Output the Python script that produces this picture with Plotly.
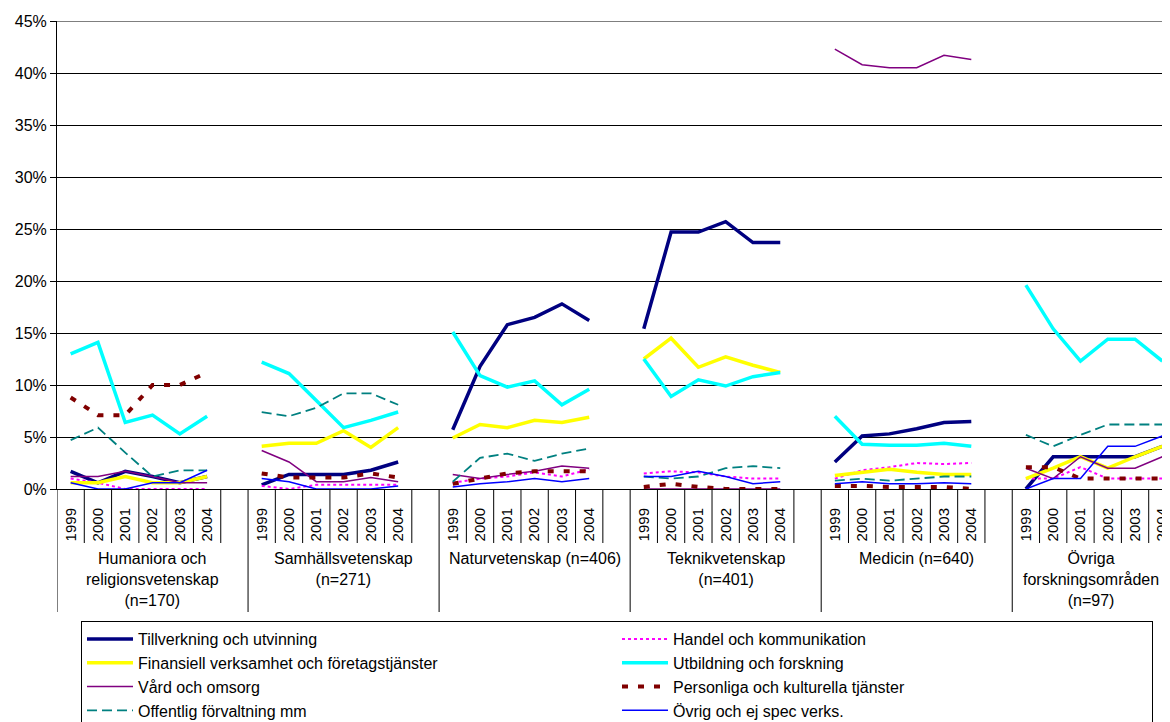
import plotly.graph_objects as go

# ---------------- data ----------------
years = ["1999", "2000", "2001", "2002", "2003", "2004"]
groups = [
    "Humaniora och<br>religionsvetenskap<br>(n=170)",
    "Samhällsvetenskap<br>(n=271)",
    "Naturvetenskap (n=406)",
    "Teknikvetenskap<br>(n=401)",
    "Medicin (n=640)",
    "Övriga<br>forskningsområden<br>(n=97)",
]

# values in percent, 6 years per group, groups in the order above
tillverkning = [1.7, 0.6, 1.7, 1.2, 0.6, 1.2,
                0.4, 1.4, 1.4, 1.4, 1.8, 2.6,
                5.7, 11.8, 15.8, 16.5, 17.8, 16.2,
                15.4, 24.7, 24.7, 25.7, 23.7, 23.7,
                2.6, 5.1, 5.3, 5.8, 6.4, 6.5,
                0.0, 3.1, 3.1, 3.1, 3.1, 4.1]
handel = [1.0, 0.6, 0.0, 0.0, 0.0, 0.0,
          0.3, 0.0, 0.4, 0.4, 0.4, 0.4,
          0.6, 1.0, 1.2, 1.6, 1.2, 1.9,
          1.5, 1.7, 1.6, 1.2, 1.0, 1.0,
          1.0, 1.8, 2.1, 2.5, 2.4, 2.5,
          1.0, 1.0, 2.1, 1.0, 1.0, 1.0]
finansiell = [0.6, 0.6, 1.2, 0.6, 0.6, 1.2,
              4.1, 4.4, 4.4, 5.6, 4.0, 5.9,
              4.9, 6.2, 5.9, 6.6, 6.4, 6.9,
              12.5, 14.5, 11.7, 12.7, 11.9, 11.2,
              1.3, 1.6, 1.9, 1.6, 1.4, 1.4,
              1.0, 2.0, 3.1, 2.0, 3.1, 4.1]
utbildning = [13.0, 14.1, 6.4, 7.1, 5.3, 7.0,
              12.2, 11.1, 8.5, 5.9, 6.6, 7.4,
              15.1, 10.9, 9.8, 10.4, 8.1, 9.6,
              12.5, 8.9, 10.5, 9.9, 10.8, 11.2,
              7.0, 4.3, 4.2, 4.2, 4.4, 4.1,
              19.6, 15.4, 12.3, 14.4, 14.4, 12.3]
vard = [1.2, 1.2, 1.7, 1.2, 0.6, 0.6,
        3.7, 2.6, 0.7, 0.7, 1.1, 0.7,
        1.4, 1.0, 1.4, 1.7, 2.2, 2.0,
        0.0, 0.0, 0.0, 0.0, 0.0, 0.0,
        42.3, 40.8, 40.5, 40.5, 41.7, 41.3,
        2.0, 1.0, 3.1, 2.0, 2.0, 3.1]
personliga = [8.8, 7.1, 7.1, 10.0, 10.0, 11.2,
              1.5, 1.1, 1.1, 1.1, 1.5, 1.1,
              0.5, 1.0, 1.5, 1.7, 1.7, 1.7,
              0.2, 0.5, 0.2, 0.0, 0.0, 0.0,
              0.3, 0.3, 0.2, 0.2, 0.2, 0.0,
              2.1, 2.1, 1.0, 1.0, 1.0, 1.0]
offentlig = [4.7, 5.9, 3.5, 1.2, 1.8, 1.8,
             7.4, 7.0, 7.8, 9.2, 9.2, 8.1,
             0.7, 3.0, 3.4, 2.7, 3.4, 3.9,
             1.2, 1.0, 1.2, 2.0, 2.2, 2.0,
             0.8, 1.0, 0.8, 1.0, 1.2, 1.2,
             5.2, 4.1, 5.2, 6.2, 6.2, 6.2]
ovrig = [0.6, 0.0, 0.0, 0.6, 0.6, 1.8,
         1.0, 0.7, 0.0, 0.0, 0.0, 0.3,
         0.2, 0.5, 0.7, 1.0, 0.7, 1.0,
         1.2, 1.2, 1.7, 1.2, 0.5, 0.7,
         0.5, 0.7, 0.5, 0.5, 0.6, 0.5,
         0.0, 1.0, 1.0, 4.1, 4.1, 5.1]

series = [
    ("Tillverkning och utvinning", tillverkning, "#000080", 3.5, "solid"),
    ("Handel och kommunikation", handel, "#FF00FF", 2, "3px,3px"),
    ("Finansiell verksamhet och företagstjänster", finansiell, "#FFFF00", 3.5, "solid"),
    ("Utbildning och forskning", utbildning, "#00FFFF", 3.5, "solid"),
    ("Vård och omsorg", vard, "#800080", 1.5, "solid"),
    ("Personliga och kulturella tjänster", personliga, "#800000", 4, "6px,10px"),
    ("Offentlig förvaltning mm", offentlig, "#008080", 1.8, "10px,5px"),
    ("Övrig och ej spec verks.", ovrig, "#0000FF", 1.5, "solid"),
]

# ---------------- layout helpers ----------------
SLOTS = len(years) + 1          # one empty slot after each group
NY = len(years)
XMAX = len(groups) * SLOTS - 1.5   # last group has no trailing empty slot
XVIS = 40.27                       # part of the axis visible in the cropped picture
FONT = "Liberation Sans, Arial, sans-serif"
PLOT_H = 468.0


def build(vals):
    xs, ys = [], []
    for g in range(len(groups)):
        for i in range(NY):
            xs.append(g * SLOTS + i)
            ys.append(vals[g * NY + i])
        xs.append(g * SLOTS + NY)
        ys.append(None)
    return xs, ys


fig = go.Figure()
for name, vals, color, width, dash in series:
    xs, ys = build(vals)
    fig.add_trace(go.Scatter(
        x=xs, y=ys, name=name, mode="lines", connectgaps=False,
        line=dict(color=color, width=width, dash=dash),
    ))

tickvals = [g * SLOTS + i for g in range(len(groups)) for i in range(NY)]
ticktext = [years[i] for g in range(len(groups)) for i in range(NY)]

shapes = []
n_slots = len(groups) * SLOTS
for k in range(n_slots):
    pos = k - 0.5
    if pos > XMAX:
        break
    long_sep = (k % SLOTS == 0)
    shapes.append(dict(
        type="line", xref="x", yref="paper",
        x0=pos, x1=pos, y0=0,
        y1=-(123 if long_sep else 54) / PLOT_H,
        line=dict(color="black", width=1),
    ))
# top border line at 45 %
shapes.append(dict(type="line", xref="paper", yref="y", x0=0, x1=1, y0=45, y1=45,
                   line=dict(color="black", width=1)))

annotations = []
for g, label in enumerate(groups):
    start = g * SLOTS - 0.5
    end = min(start + SLOTS, XVIS)
    annotations.append(dict(
        x=(start + end) / 2, xref="x", y=-59 / PLOT_H, yref="paper",
        text=label, showarrow=False, yanchor="top", xanchor="center",
        font=dict(family=FONT, size=16, color="black"),
    ))

fig.update_layout(
    width=1170, height=722,
    margin=dict(l=49, r=2, t=13, b=241, autoexpand=False),
    plot_bgcolor="white", paper_bgcolor="white",
    font=dict(family=FONT, size=15, color="black"),
    shapes=shapes, annotations=annotations,
    showlegend=True,
    legend=dict(
        orientation="h", x=24 / 1119, y=-132 / PLOT_H,
        xanchor="left", yanchor="top",
        bordercolor="black", borderwidth=1, bgcolor="white",
        font=dict(family=FONT, size=16, color="black"),
        itemwidth=46,
        entrywidth=474, entrywidthmode="pixels", traceorder="normal",
    ),
)
fig.update_xaxes(
    range=[-0.5, XMAX], tickmode="array", tickvals=tickvals, ticktext=ticktext,
    tickangle=-90, ticks="", ticklabelstandoff=12, showgrid=False, zeroline=False,
    showline=True, linecolor="black", linewidth=1,
    tickfont=dict(family=FONT, size=15, color="black"),
)
fig.update_yaxes(
    range=[0, 45], dtick=5, ticksuffix="%", showgrid=True, gridcolor="black",
    gridwidth=1, zeroline=False, showline=True, linecolor="black", linewidth=1,
    ticks="outside", ticklen=6, tickcolor="black",
    tickfont=dict(family=FONT, size=16, color="black"),
)

fig.write_html("out.html")
